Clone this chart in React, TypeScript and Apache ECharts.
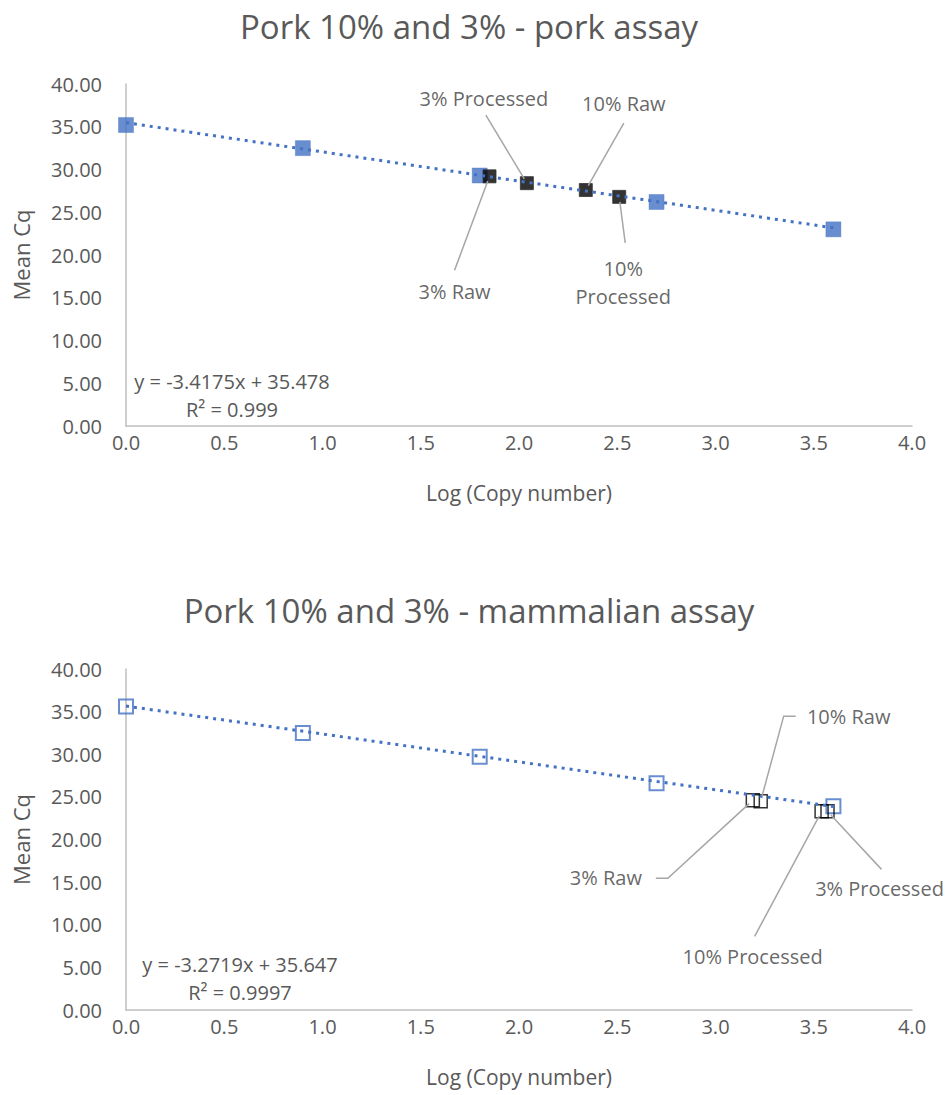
import React, { useEffect, useRef } from "react";
import * as echarts from "echarts";

// ---- Data ----
const titles = ["Pork 10% and 3% - pork assay", "Pork 10% and 3% - mammalian assay"];
const xTickMin = 0;
const xTickMax = 4;
const xTickStep = 0.5;
const yTickMin = 0;
const yTickMax = 40;
const yTickStep = 5;

// Top chart (pork assay)
const porkStdX = [0, 0.9, 1.8, 2.7, 3.6];
const porkStdY = [35.2, 32.5, 29.3, 26.2, 23.0];
const porkSampleNames = ["3% Raw", "3% Processed", "10% Raw", "10%\nProcessed"];
const porkSampleX = [1.85, 2.04, 2.34, 2.51];
const porkSampleY = [29.2, 28.4, 27.6, 26.8];
const porkSlope = -3.4175;
const porkIntercept = 35.478;
const porkR2 = "0.999";
const porkTrendX = [0, 3.62];

// Bottom chart (mammalian assay)
const mamStdX = [0, 0.9, 1.8, 2.7, 3.6];
const mamStdY = [35.6, 32.5, 29.7, 26.6, 23.9];
const mamSampleNames = ["3% Raw", "10% Raw", "10% Processed", "3% Processed"];
const mamSampleX = [3.19, 3.23, 3.54, 3.57];
const mamSampleY = [24.6, 24.5, 23.3, 23.3];
const mamSlope = -3.2719;
const mamIntercept = 35.647;
const mamR2 = "0.9997";
const mamTrendX = [0, 3.62];

// Label offsets (dx, dy) relative to each point
const porkLabelDx = [-35, -43, 38, 4];
const porkLabelDy = [115, -85, -87, 86];
const mamLabelDx = [-147, 88, -69, 52];
const mamLabelDy = [77, -85, 145, 77];
// Leader line start relative to label centre, and optional bend (relative to start)
const porkLeadSx = [0, 2, 0, 2];
const porkLeadSy = [-21, 17, 20, -40];
const porkLeadBx = [0, 0, 0, 0];
const mamLeadSx = [50, -53, 2, 2];
const mamLeadSy = [1, 0, -20, -19];
const mamLeadBx = [12, -12, 0, 0];

const FONT = "'Open Sans', 'Noto Sans', sans-serif";
const TXT = "#595959";
const BLUE = "#4472C4";

function fmtEq(slope: number, intercept: number, r2: string) {
  return `y = ${slope}x + ${intercept}\nR² = ${r2}`;
}

export default function App() {
  const ref = useRef<HTMLDivElement>(null);
  useEffect(() => {
    document.body.style.margin = "0";
    const chart = echarts.init(ref.current!, undefined, { renderer: "svg" });

    const grids = [
      { left: 126, top: 84, width: 786, height: 342 },
      { left: 126, top: 669, width: 786, height: 341 },
    ];

    const mkX = (gi: number) => ({
      type: "value",
      gridIndex: gi,
      min: xTickMin,
      max: xTickMax,
      interval: xTickStep,
      name: "Log (Copy number)",
      nameLocation: "middle",
      nameGap: 56,
      nameTextStyle: { color: TXT, fontSize: 21, fontFamily: FONT },
      axisLine: { show: true, lineStyle: { color: "#BFBFBF", width: 1.5 } },
      axisTick: { show: false },
      splitLine: { show: false },
      axisLabel: {
        color: TXT,
        fontSize: 20,
        fontFamily: FONT,
        margin: 6,
        formatter: (v: number) => v.toFixed(1),
      },
    });
    const mkY = (gi: number) => ({
      type: "value",
      gridIndex: gi,
      min: yTickMin,
      max: yTickMax,
      interval: yTickStep,
      name: "Mean Cq",
      nameLocation: "middle",
      nameGap: 94,
      nameTextStyle: { color: TXT, fontSize: 22, fontFamily: FONT },
      axisLine: { show: true, lineStyle: { color: "#BFBFBF", width: 1.5 } },
      axisTick: { show: false },
      splitLine: { show: false },
      axisLabel: {
        color: TXT,
        fontSize: 20,
        fontFamily: FONT,
        margin: 24,
        formatter: (v: number) => v.toFixed(2),
      },
    });

    const sampleSeries = (
      gi: number,
      names: string[],
      xs: number[],
      ys: number[],
      dxs: number[],
      dys: number[],
      filled: boolean
    ) => ({
      type: "scatter",
      xAxisIndex: gi,
      yAxisIndex: gi,
      z: 3,
      symbol: "rect",
      symbolSize: 13,
      itemStyle: filled
        ? { color: "#000000", borderColor: "#333333", borderWidth: 1 }
        : { color: "rgba(0,0,0,0)", borderColor: "#000000", borderWidth: 1.5 },
      data: names.map((n, i) => ({ name: n, value: [xs[i], ys[i]] })),
      label: {
        show: true,
        position: "inside",
        formatter: "{b}",
        color: "#404040",
        fontSize: 20,
        fontFamily: FONT,
        lineHeight: 28,
        align: "center",
      },
      labelLayout: (p: any) => ({ dx: dxs[p.dataIndex], dy: dys[p.dataIndex] }),
    });

    const stdSeries = (gi: number, xs: number[], ys: number[], filled: boolean) => ({
      type: "scatter",
      xAxisIndex: gi,
      yAxisIndex: gi,
      z: 2,
      symbol: "rect",
      symbolSize: filled ? 15 : 14,
      itemStyle: filled
        ? { color: BLUE, borderColor: BLUE, borderWidth: 0.5 }
        : { color: "rgba(0,0,0,0)", borderColor: BLUE, borderWidth: 2 },
      data: xs.map((x, i) => [x, ys[i]]),
    });

    const trendSeries = (gi: number, xs: number[], slope: number, intercept: number) => ({
      type: "line",
      xAxisIndex: gi,
      yAxisIndex: gi,
      z: 5,
      showSymbol: false,
      symbol: "none",
      silent: true,
      lineStyle: { color: BLUE, width: 3, type: [3, 5], cap: "butt" },
      data: xs.map((x) => [x, slope * x + intercept]),
    });

    const eqGraphics = [
      {
        type: "text",
        x: 232,
        y: 367,
        style: {
          text: fmtEq(porkSlope, porkIntercept, porkR2),
          fill: TXT,
          font: `20px ${FONT}`,
          align: "center",
          lineHeight: 28,
        },
      },
      {
        type: "text",
        x: 240,
        y: 950,
        style: {
          text: fmtEq(mamSlope, mamIntercept, mamR2),
          fill: TXT,
          font: `20px ${FONT}`,
          align: "center",
          lineHeight: 28,
        },
      },
    ];

    chart.setOption({
      animation: false,
      backgroundColor: "#ffffff",
      title: [
        {
          text: titles[0],
          left: 464,
          top: 5,
          textAlign: "center",
          textStyle: { color: TXT, fontSize: 33, fontWeight: "normal", fontFamily: FONT },
        },
        {
          text: titles[1],
          left: 464,
          top: 589,
          textAlign: "center",
          textStyle: { color: TXT, fontSize: 33, fontWeight: "normal", fontFamily: FONT },
        },
      ],
      grid: grids,
      xAxis: [mkX(0), mkX(1)],
      yAxis: [mkY(0), mkY(1)],
      series: [
        stdSeries(0, porkStdX, porkStdY, true),
        sampleSeries(0, porkSampleNames, porkSampleX, porkSampleY, porkLabelDx, porkLabelDy, true),
        trendSeries(0, porkTrendX, porkSlope, porkIntercept),
        stdSeries(1, mamStdX, mamStdY, false),
        sampleSeries(1, mamSampleNames, mamSampleX, mamSampleY, mamLabelDx, mamLabelDy, false),
        trendSeries(1, mamTrendX, mamSlope, mamIntercept),
      ],
      graphic: eqGraphics,
    });

    // Leader lines computed from data positions
    const leaders: any[] = [];
    const addLeaders = (
      gi: number,
      xs: number[],
      ys: number[],
      dxs: number[],
      dys: number[],
      sxs: number[],
      sys: number[],
      bxs: number[]
    ) => {
      xs.forEach((x, i) => {
        const p = chart.convertToPixel({ xAxisIndex: gi, yAxisIndex: gi }, [x, ys[i]]) as number[];
        const s = [p[0] + dxs[i] + sxs[i], p[1] + dys[i] + sys[i]];
        const b = [s[0] + bxs[i], s[1]];
        const vx = b[0] - p[0];
        const vy = b[1] - p[1];
        const len = Math.sqrt(vx * vx + vy * vy) || 1;
        const e = [p[0] + (vx / len) * 5, p[1] + (vy / len) * 5];
        const pts = bxs[i] !== 0 ? [s, b, e] : [s, e];
        leaders.push({
          type: "polyline",
          silent: true,
          z: 10,
          shape: { points: pts },
          style: { stroke: "#A6A6A6", lineWidth: 1.5, fill: "none" },
        });
      });
    };
    addLeaders(0, porkSampleX, porkSampleY, porkLabelDx, porkLabelDy, porkLeadSx, porkLeadSy, porkLeadBx);
    addLeaders(1, mamSampleX, mamSampleY, mamLabelDx, mamLabelDy, mamLeadSx, mamLeadSy, mamLeadBx);
    chart.setOption({ graphic: [...eqGraphics, ...leaders] });

    return () => chart.dispose();
  }, []);
  return <div ref={ref} style={{ width: 949, height: 1095 }} />;
}
